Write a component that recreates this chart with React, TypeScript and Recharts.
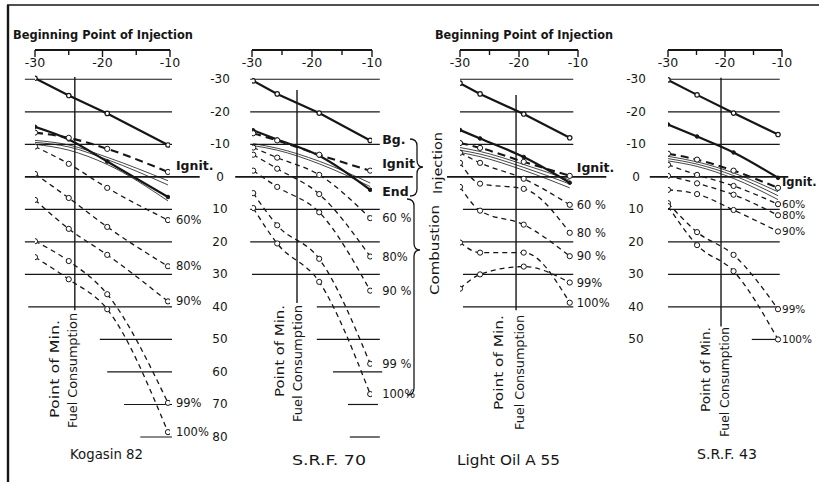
import React from 'react';
import { LineChart, Line, XAxis, YAxis, ReferenceLine } from 'recharts';

const FONT = "'DejaVu Sans', 'Open Sans', sans-serif";
const INK = '#161616';

// ---------- shared axis values ----------
const xTicks = [-30, -25, -20, -15, -10];
const xDomain: [number, number] = [-30, -10];
const yDomain: [number, number] = [-39, 80];
const yTicksSRF70 = [-30, -20, -10, 0, 10, 20, 30, 40, 50, 60, 70, 80];
const yTicksSRF43 = [-30, -20, -10, 0, 10, 20, 30, 40, 50];

// ---------- Kogasin 82 ----------
const kogX = [-30, -25, -19.3, -10.3];
const kogBg = [-30.3, -25, -19.5, -9.8];
const kogEnd = [-15.4, -11.5, -4.7, 6.2];
const kogIgnit = [-13.6, -12, -8.6, -1.5];
const kogThinA = [-11.2, -9.8, -6, 1.2];
const kogThinB = [-10.6, -9.2, -5.3, 2.5];
const kogThinC = [-10, -8.2, -3.8, 7.4];
const kog60 = [-9.3, -4, 3.4, 13.3];
const kog80 = [-0.9, 6.5, 15.4, 27.5];
const kog90 = [7.1, 16, 24, 38.3];
const kog99 = [19.8, 25.9, 36.1, 69.5];
const kog100 = [24.7, 31.5, 40.7, 78.5];
const kogGridY = [-30, -20, -10, 0, 10, 20, 30, 40, 50, 60, 70, 80];
const kogGridFrom = [-31.5, -31.5, -31.5, -31.5, -31.5, -31.5, -31.5, -31, -20.4, -19.3, -16.8, -14.4];
const kogGridTo = [-9.7, -9.7, -9.7, -5.6, -9.7, -9.7, -9.7, -9.7, -9.7, -9.7, -9.7, -9.7];
const kogMinX = -24.1;
const kogMinY = [-30.7, 41];

// ---------- S.R.F. 70 ----------
const s70X = [-29.8, -25.8, -18.8, -10.3];
const s70Bg = [-29.5, -25.5, -19.6, -11.2];
const s70End = [-14.3, -11.5, -6.5, 4];
const s70Ignit = [-13.4, -11.2, -6.8, -1.9];
const s70ThinA = [-10.2, -8.8, -4.8, 1.9];
const s70ThinB = [-9.6, -8.2, -4, 3];
const s7060 = [-9, -5.9, -0.6, 12.7];
const s7080 = [-6.8, -2.5, 5.3, 24.5];
const s7090 = [-1.9, 3.1, 10.9, 35];
const s7099 = [5, 14.9, 25.2, 57.5];
const s70100 = [9.6, 20.5, 32.3, 66.8];
const s70GridY = [-30, -20, -10, 0, 10, 20, 30, 40, 50, 60, 70, 80];
const s70GridFrom = [-30.3, -30.3, -30.3, -32.8, -30.3, -30.3, -30, -19.2, -19.2, -16.5, -14, -13.7];
const s70GridTo = [-8.7, -8.7, -8.7, -3.2, -8.7, -8.7, -8.7, -8.7, -8.7, -8.3, -9, -8.7];
const s70MinX = -22.5;
const s70MinY = [-26.7, 38.8];

// ---------- Light Oil A 55 ----------
const loX = [-30, -26.6, -19.2, -11.4];
const loBg = [-28.8, -25.5, -19.3, -12];
const loEnd = [-14.4, -11.8, -6.1, 1.8];
const loIgnit = [-10.4, -8.9, -4.6, -0.3];
const loThinA = [-9, -7.8, -3.8, 1];
const loThinB = [-8.2, -7, -2.9, 2.2];
const loThinC = [-7.5, -6.2, -2, 3.4];
const lo60 = [-7.4, -4.3, 0.6, 8.6];
const lo80 = [-4.3, 2.1, 3.7, 17.2];
const lo90 = [3.1, 10.4, 14.7, 24.4];
const lo99 = [34.4, 30, 27.6, 32.5];
const lo100 = [20.2, 23.3, 23.3, 38.7];
const loGridY = [-30, -20, -10, 0, 10, 20, 30, 40];
const loGridFrom = [-30, -30, -30, -32.2, -29.5, -30, -29.5, -29.5];
const loGridTo = [-10.8, -10.8, -10.8, -5.2, -10.8, -10.8, -10.8, -10.8];
const loMinX = -20.5;
const loMinY = [-25.2, 41];

// ---------- S.R.F. 43 ----------
const s43X = [-30, -24.9, -18.5, -10.7];
const s43Bg = [-29.8, -25.2, -19.6, -13];
const s43End = [-16.1, -12.4, -7.5, 0.3];
const s43Ignit = [-7.1, -5.3, -1.9, 3.4];
const s43ThinA = [-6.3, -4.6, -1.2, 4.6];
const s43ThinB = [-5.6, -3.9, -0.4, 5.8];
const s43ThinC = [-4.9, -3.2, 0.5, 7];
const s4360 = [-3.7, -0.6, 2.8, 8.4];
const s4380 = [-0.3, 2, 5.5, 11.8];
const s4390 = [4, 5.3, 10.2, 16.8];
const s4399 = [8.1, 17, 24, 40.7];
const s43100 = [9, 21, 29, 50];
const s43GridY = [-30, -20, -10, 0, 10, 20, 30, 40, 50];
const s43GridFrom = [-30, -30, -30, -33.2, -30, -30, -30, -30, -15.3];
const s43GridTo = [-10.4, -10.4, -10.4, -8.9, -10.4, -10.4, -10.4, -10.4, -10.4];
const s43MinX = -20.7;
const s43MinY = [-30.5, 46];

// ---------- layout constants ----------
const ML = 50;
const MR = 48;
const AXIS_H = 10;
const MB = 16;
const PLOT_TOP = 50;
const PLOT_BOTTOM = 437;
const CH = AXIS_H + (PLOT_BOTTOM - PLOT_TOP) + MB;

type Kind = 'bg' | 'end' | 'ignit' | 'thin' | 'pct';
interface SeriesSpec { key: string; values: number[]; kind: Kind; label?: string; dy?: number; bold?: boolean }
interface PanelSpec {
  plotLeft: number; plotWidth: number; xs: number[]; series: SeriesSpec[];
  gridY: number[]; gridFrom: number[]; gridTo: number[];
  minX: number; minY: number[]; yTicks: number[] | null; labelDx: number;
  boldSize: number; pctSize: number;
}

function mkSeries(
  bg: number[], end: number[], ignit: number[], thins: number[][],
  pcts: number[][], pctLabels: string[], extra: { bg?: string; end?: string; ignit: string; ignitDy: number }
): SeriesSpec[] {
  const out: SeriesSpec[] = [
    { key: 'bg', values: bg, kind: 'bg', label: extra.bg, dy: 4, bold: true },
    ...thins.map((t, i) => ({ key: 'thin' + i, values: t, kind: 'thin' as Kind })),
    { key: 'end', values: end, kind: 'end', label: extra.end, dy: 6, bold: true },
    { key: 'ignit', values: ignit, kind: 'ignit', label: extra.ignit, dy: extra.ignitDy, bold: true },
  ];
  pcts.forEach((p, i) => out.push({ key: 'p' + i, values: p, kind: 'pct', label: pctLabels[i], dy: 4 }));
  return out;
}

const panels: PanelSpec[] = [
  {
    plotLeft: 35, plotWidth: 135, xs: kogX,
    series: mkSeries(kogBg, kogEnd, kogIgnit, [kogThinA, kogThinB, kogThinC],
      [kog60, kog80, kog90, kog99, kog100], ['60%', '80%', '90%', '99%', '100%'],
      { ignit: 'Ignit.', ignitDy: -2 }),
    gridY: kogGridY, gridFrom: kogGridFrom, gridTo: kogGridTo, minX: kogMinX, minY: kogMinY,
    yTicks: null, labelDx: 8, boldSize: 12.5, pctSize: 11.5,
  },
  {
    plotLeft: 252, plotWidth: 120, xs: s70X,
    series: mkSeries(s70Bg, s70End, s70Ignit, [s70ThinA, s70ThinB],
      [s7060, s7080, s7090, s7099, s70100], ['60 %', '80%', '90 %', '99 %', '100%'],
      { bg: 'Bg.', end: 'End', ignit: 'Ignit', ignitDy: -3 }),
    gridY: s70GridY, gridFrom: s70GridFrom, gridTo: s70GridTo, minX: s70MinX, minY: s70MinY,
    yTicks: yTicksSRF70, labelDx: 12, boldSize: 12.5, pctSize: 11.5,
  },
  {
    plotLeft: 460, plotWidth: 118, xs: loX,
    series: mkSeries(loBg, loEnd, loIgnit, [loThinA, loThinB, loThinC],
      [lo60, lo80, lo90, lo99, lo100], ['60 %', '80 %', '90 %', '99%', '100%'],
      { ignit: 'Ignit.', ignitDy: -4 }),
    gridY: loGridY, gridFrom: loGridFrom, gridTo: loGridTo, minX: loMinX, minY: loMinY,
    yTicks: null, labelDx: 7, boldSize: 12.5, pctSize: 11.5,
  },
  {
    plotLeft: 668, plotWidth: 114, xs: s43X,
    series: mkSeries(s43Bg, s43End, s43Ignit, [s43ThinA, s43ThinB, s43ThinC],
      [s4360, s4380, s4390, s4399, s43100], ['60%', '80%', '90%', '99%', '100%'],
      { ignit: 'Ignit.', ignitDy: -2 }),
    gridY: s43GridY, gridFrom: s43GridFrom, gridTo: s43GridTo, minX: s43MinX, minY: s43MinY,
    yTicks: yTicksSRF43, labelDx: 4, boldSize: 11.5, pctSize: 10.5,
  },
];

const XTick = (p: any) => {
  const v = p.payload?.value;
  const major = Math.abs(v % 10) < 1e-6;
  return (
    <g>
      <line x1={p.x} y1={p.y} x2={p.x} y2={p.y + (major ? 7 : 5)} stroke={INK} strokeWidth={1.4} />
      {major && (
        <text x={p.x} y={p.y + 17} textAnchor="middle" fontSize={12.5} fontFamily={FONT} fill={INK}>
          {String(v)}
        </text>
      )}
    </g>
  );
};

const YTick = (p: any) => (
  <text x={p.x - 8} y={p.y + 4} textAnchor="middle" fontSize={12} fontFamily={FONT} fill={INK}>
    {String(p.payload?.value)}
  </text>
);

function endLabel(text: string, dx: number, dy: number, bold: boolean, last: number, boldSize: number, pctSize: number) {
  return (p: any) => {
    if (p.index !== last) return <g />;
    return (
      <text x={p.x + dx} y={p.y + dy} fontSize={bold ? boldSize : pctSize} fontWeight={bold ? 'bold' : 'normal'}
        fontFamily={FONT} fill={INK}>
        {text}
      </text>
    );
  };
}

function styleFor(kind: Kind) {
  const hollow = { r: 2.6, fill: '#fff', stroke: INK, strokeWidth: 1, strokeDasharray: 'none' };
  switch (kind) {
    case 'bg': return { w: 2.2, dash: undefined, type: 'linear', dot: { r: 2.2, fill: '#fff', stroke: INK, strokeWidth: 1.2, strokeDasharray: 'none' } };
    case 'end': return { w: 2.2, dash: undefined, type: 'monotone', dot: { r: 1.8, fill: INK, stroke: INK, strokeWidth: 1, strokeDasharray: 'none' } };
    case 'ignit': return { w: 2.1, dash: '8 5', type: 'monotone', dot: hollow };
    case 'thin': return { w: 0.8, dash: undefined, type: 'monotone', dot: false as any };
    default: return { w: 1.3, dash: '5 4', type: 'monotone', dot: hollow };
  }
}

function Panel({ spec }: { spec: PanelSpec }) {
  const rows = spec.xs.map((x, i) => {
    const r: Record<string, number> = { x };
    spec.series.forEach((s) => { r[s.key] = s.values[i]; });
    return r;
  });
  const last = spec.xs.length - 1;
  return (
    <div style={{ position: 'absolute', left: spec.plotLeft - ML, top: PLOT_TOP - AXIS_H }}>
      <LineChart width={ML + spec.plotWidth + MR} height={CH} data={rows}
        margin={{ top: 0, right: MR, bottom: MB, left: 0 }}>
        <XAxis dataKey="x" type="number" orientation="top" domain={xDomain} ticks={xTicks} interval={0}
          height={AXIS_H} tickLine={false} tickSize={0} tickMargin={0}
          axisLine={{ stroke: INK, strokeWidth: 1.8 }} tick={<XTick />} allowDataOverflow />
        <YAxis type="number" domain={yDomain} reversed ticks={spec.yTicks ?? [0]} interval={0} width={ML}
          axisLine={false} tickLine={false} tickSize={0} tickMargin={24}
          tick={spec.yTicks ? <YTick /> : false} allowDataOverflow />
        {spec.gridY.map((y, i) => (
          <ReferenceLine key={'g' + i} segment={[{ x: spec.gridFrom[i], y }, { x: spec.gridTo[i], y }]}
            stroke={INK} strokeWidth={y === 0 ? 1.9 : 1.2} ifOverflow="visible" />
        ))}
        <ReferenceLine segment={[{ x: spec.minX, y: spec.minY[0] }, { x: spec.minX, y: spec.minY[1] }]}
          stroke={INK} strokeWidth={1.4} ifOverflow="visible" />
        {spec.series.map((s) => {
          const st = styleFor(s.kind);
          return (
            <Line key={s.key} dataKey={s.key} type={st.type as any} stroke={INK} strokeWidth={st.w}
              strokeDasharray={st.dash} dot={st.dot} activeDot={false} isAnimationActive={false}
              label={s.label ? endLabel(s.label, spec.labelDx, s.dy ?? 4, !!s.bold, last, spec.boldSize, spec.pctSize) : false} />
          );
        })}
      </LineChart>
    </div>
  );
}

// ---------- annotation texts ----------
const titleText = 'Beginning Point of Injection';
const fuelNames = ['Kogasin 82', 'S.R.F. 70', 'Light Oil A 55', 'S.R.F. 43'];
const minLine1 = 'Point of Min.';
const minLine2 = 'Fuel Consumption';

function Rot({ x, y, text, len, anchor }: { x: number; y: number; text: string; len: number; anchor: 'end' | 'middle' }) {
  return (
    <text transform={`translate(${x},${y}) rotate(-90)`} textAnchor={anchor} fontSize={13}
      fontFamily={FONT} fill={INK} textLength={len} lengthAdjust="spacingAndGlyphs">
      {text}
    </text>
  );
}

function Overlay() {
  const t = { fontFamily: FONT, fill: INK };
  return (
    <svg width={819} height={482} style={{ position: 'absolute', left: 0, top: 0 }}>
      <line x1={7} y1={5} x2={819} y2={5} stroke={INK} strokeWidth={1.6} />
      <line x1={8} y1={5} x2={8} y2={482} stroke={INK} strokeWidth={2.4} />
      <text x={13} y={39} fontSize={13} fontWeight="bold" {...t} textLength={180} lengthAdjust="spacingAndGlyphs">{titleText}</text>
      <text x={435} y={39} fontSize={13} fontWeight="bold" {...t} textLength={178} lengthAdjust="spacingAndGlyphs">{titleText}</text>
      <text x={70} y={459} fontSize={14} {...t} textLength={73} lengthAdjust="spacingAndGlyphs">{fuelNames[0]}</text>
      <text x={292} y={465} fontSize={14} {...t} textLength={74} lengthAdjust="spacingAndGlyphs">{fuelNames[1]}</text>
      <text x={457} y={465} fontSize={14} {...t} textLength={103} lengthAdjust="spacingAndGlyphs">{fuelNames[2]}</text>
      <text x={697} y={459} fontSize={14} {...t} textLength={60} lengthAdjust="spacingAndGlyphs">{fuelNames[3]}</text>
      <Rot x={59} y={320} text={minLine1} len={98} anchor="end" />
      <Rot x={77} y={313} text={minLine2} len={115} anchor="end" />
      <Rot x={284} y={305} text={minLine1} len={92} anchor="end" />
      <Rot x={302} y={305} text={minLine2} len={117} anchor="end" />
      <Rot x={503} y={315} text={minLine1} len={95} anchor="end" />
      <Rot x={524} y={315} text={minLine2} len={115} anchor="end" />
      <Rot x={710} y={327} text={minLine1} len={85} anchor="end" />
      <Rot x={729} y={327} text={minLine2} len={110} anchor="end" />
      <Rot x={442} y={163} text="Injection" len={62} anchor="middle" />
      <Rot x={439} y={250} text="Combustion" len={90} anchor="middle" />
      <path d="M 410 139 Q 417 139 417 146 L 417 160 Q 417 167 423 167 Q 417 167 417 174 L 417 189 Q 417 196 410 196"
        fill="none" stroke={INK} strokeWidth={1.3} />
      <path d="M 407 199 Q 414 199 414 206 L 414 243 Q 414 250 420 250 Q 414 250 414 257 L 414 388 Q 414 395 407 395"
        fill="none" stroke={INK} strokeWidth={1.3} />
    </svg>
  );
}

export default function App() {
  return (
    <div style={{ position: 'absolute', left: 0, top: 0, width: 819, height: 482, overflow: 'hidden', background: '#fff' }}>
      {panels.map((p, i) => <Panel key={i} spec={p} />)}
      <Overlay />
    </div>
  );
}
